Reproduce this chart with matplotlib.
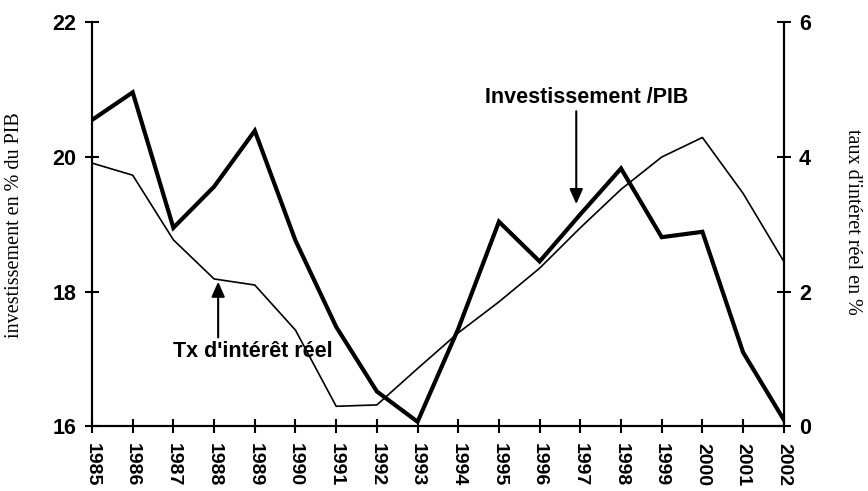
import matplotlib
matplotlib.use("Agg")
import matplotlib.pyplot as plt
from matplotlib.font_manager import FontProperties

annees = list(range(1985, 2003))
investissement = [20.55, 20.96, 18.95, 19.56, 20.39, 18.76, 17.48, 16.52, 16.07, 17.45,
                  19.04, 18.45, 19.15, 19.83, 18.81, 18.89, 17.10, 16.10]
taux_interet = [3.91, 3.73, 2.77, 2.19, 2.10, 1.43, 0.30, 0.32, 0.86, 1.39,
                1.85, 2.35, 2.95, 3.52, 4.00, 4.29, 3.46, 2.45]

fig = plt.figure(figsize=(8.68, 4.91), dpi=100)
ax = fig.add_axes([0.106, 0.1314, 0.797, 0.8232])
ax2 = ax.twinx()

ax.plot(annees, investissement, color="black", linewidth=3.0, solid_joinstyle="miter")
ax2.plot(annees, taux_interet, color="black", linewidth=1.2)

ax.set_xlim(1985, 2002)
ax.set_ylim(16, 22)
ax2.set_ylim(0, 6)
ax.set_yticks([16, 18, 20, 22])
ax2.set_yticks([0, 2, 4, 6])
ax.set_xticks(annees)
ax.set_xticklabels([str(a) for a in annees], rotation=270, va="top", ha="center")

for lab in ax.get_yticklabels() + ax2.get_yticklabels():
    lab.set_fontproperties(FontProperties(family="Liberation Sans", weight="bold", size=15.5))
for lab in ax.get_xticklabels():
    lab.set_fontproperties(FontProperties(family="Liberation Sans", weight="bold", size=14))

for a in (ax, ax2):
    a.spines["top"].set_visible(False)
    for s in ("left", "right", "bottom"):
        a.spines[s].set_linewidth(1.5)
    a.tick_params(direction="inout", length=10, width=1.5, colors="black")
ax.tick_params(axis="x", pad=7)
ax.tick_params(axis="y", pad=6)
ax2.tick_params(axis="y", pad=6)

fig.text(15 / 868, 1 - 225 / 491, "investissement en % du PIB", family="Liberation Serif",
         fontsize=14.5, rotation=90, ha="center", va="center")
fig.text(852 / 868, 1 - 222 / 491, "taux d'intéret réel en %", family="Liberation Serif",
         fontsize=14.5, rotation=270, ha="center", va="center")

# annotations
fleche = dict(arrowstyle="-|>,head_length=0.9,head_width=0.4", color="black", lw=1.5)
ax.annotate("", xy=(1996.9, 19.26), xytext=(1996.9, 20.72), arrowprops=fleche)
ax.text(1997.16, 20.88, "Investissement /PIB", family="Liberation Sans", weight="bold",
        fontsize=15.5, ha="center", va="center")
ax.annotate("", xy=(1988.1, 18.19), xytext=(1988.1, 17.28), arrowprops=fleche)
ax.text(1988.94, 17.11, "Tx d'intérêt réel", family="Liberation Sans", weight="bold",
        fontsize=15.5, ha="center", va="center")

fig.savefig("out.png", dpi=100)
